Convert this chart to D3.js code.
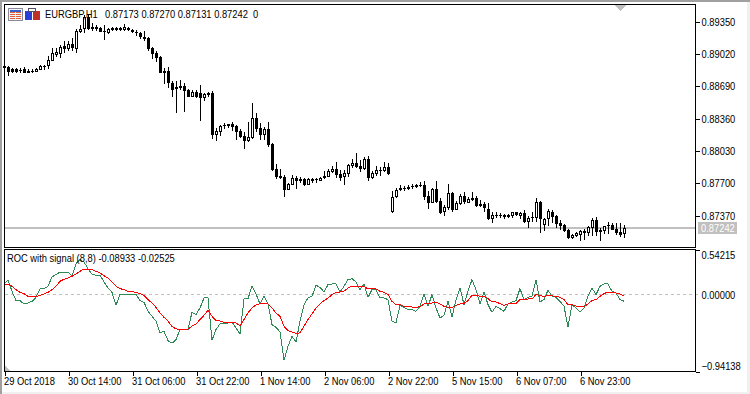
<!DOCTYPE html>
<html>
<head>
<meta charset="utf-8">
<title>EURGBP,H1</title>
<script src="https://cdnjs.cloudflare.com/ajax/libs/d3/7.8.5/d3.min.js"></script>
<style>
  html, body { margin: 0; padding: 0; background: #fff; overflow: hidden; }
  svg { display: block; }
  text { font-family: "Liberation Sans", Arial, sans-serif; font-size: 10.5px; fill: #000; }
</style>
</head>
<body>
<svg id="chart" width="750" height="394"></svg>
<script>
// H1 candles, 156 bars
const opens = [
  0.88894,0.88884,0.88856,0.88856,0.88850,0.88856,0.88843,0.88839,0.88833,0.88850,
  0.88880,0.88890,0.88945,0.89003,0.89009,0.89095,0.89061,0.89118,0.89064,0.89241,
  0.89265,0.89394,0.89271,0.89292,0.89278,0.89244,0.89227,0.89278,0.89275,0.89275,
  0.89258,0.89282,0.89258,0.89241,0.89227,0.89190,0.89176,0.89078,0.89026,0.88982,
  0.88843,0.88839,0.88713,0.88652,0.88686,0.88686,0.88645,0.88577,0.88625,0.88611,
  0.88567,0.88615,0.88619,0.88190,0.88221,0.88289,0.88296,0.88299,0.88279,0.88231,
  0.88177,0.88129,0.88160,0.88360,0.88258,0.88190,0.88248,0.88095,0.87840,0.87768,
  0.87758,0.87629,0.87680,0.87748,0.87741,0.87738,0.87680,0.87738,0.87738,0.87721,
  0.87744,0.87758,0.87809,0.87840,0.87789,0.87755,0.87789,0.87870,0.87901,0.87870,
  0.87840,0.87942,0.87748,0.87789,0.87826,0.87819,0.87860,0.87401,0.87551,0.87622,
  0.87639,0.87656,0.87652,0.87659,0.87669,0.87676,0.87564,0.87495,0.87635,0.87512,
  0.87397,0.87444,0.87594,0.87424,0.87482,0.87564,0.87495,0.87543,0.87543,0.87482,
  0.87482,0.87431,0.87329,0.87359,0.87359,0.87370,0.87370,0.87359,0.87397,0.87363,
  0.87390,0.87298,0.87336,0.87336,0.87506,0.87264,0.87325,0.87404,0.87359,0.87288,
  0.87264,0.87217,0.87135,0.87155,0.87162,0.87189,0.87189,0.87240,0.87319,0.87193,
  0.87206,0.87268,0.87268,0.87227,0.87196,0.87173
];
const highs = [
  0.88935,0.88894,0.88870,0.88870,0.88870,0.88884,0.88856,0.88856,0.88867,0.88897,
  0.88897,0.88992,0.89074,0.89071,0.89101,0.89142,0.89142,0.89176,0.89265,0.89309,
  0.89411,0.89411,0.89326,0.89305,0.89292,0.89309,0.89275,0.89292,0.89285,0.89292,
  0.89319,0.89292,0.89268,0.89258,0.89234,0.89251,0.89190,0.89088,0.89040,0.88992,
  0.88870,0.88877,0.88737,0.88737,0.88748,0.88720,0.88652,0.88645,0.88645,0.88696,
  0.88618,0.88628,0.88636,0.88262,0.88289,0.88306,0.88302,0.88319,0.88285,0.88248,
  0.88221,0.88319,0.88513,0.88411,0.88313,0.88265,0.88319,0.88102,0.87891,0.87840,
  0.87778,0.87700,0.87778,0.87768,0.87758,0.87748,0.87748,0.87748,0.87748,0.87758,
  0.87819,0.87843,0.87870,0.87911,0.87826,0.87830,0.87891,0.87942,0.88003,0.87932,
  0.87966,0.87976,0.87819,0.87870,0.87864,0.87911,0.87901,0.87615,0.87642,0.87676,
  0.87666,0.87676,0.87683,0.87683,0.87703,0.87717,0.87618,0.87642,0.87717,0.87540,
  0.87472,0.87686,0.87604,0.87516,0.87584,0.87601,0.87557,0.87604,0.87564,0.87523,
  0.87506,0.87492,0.87400,0.87400,0.87390,0.87380,0.87380,0.87404,0.87400,0.87400,
  0.87421,0.87359,0.87400,0.87543,0.87512,0.87339,0.87431,0.87421,0.87366,0.87319,
  0.87278,0.87227,0.87176,0.87196,0.87217,0.87227,0.87257,0.87339,0.87349,0.87237,
  0.87257,0.87298,0.87288,0.87291,0.87288,0.87270
];
const lows = [
  0.88833,0.88788,0.88819,0.88822,0.88822,0.88816,0.88819,0.88819,0.88829,0.88846,
  0.88850,0.88860,0.88941,0.88982,0.88975,0.89020,0.89040,0.89047,0.89026,0.89224,
  0.89224,0.89258,0.89251,0.89244,0.89237,0.89156,0.89214,0.89244,0.89244,0.89248,
  0.89244,0.89244,0.89231,0.89197,0.89163,0.89149,0.89047,0.88962,0.88931,0.88816,
  0.88707,0.88666,0.88577,0.88414,0.88645,0.88424,0.88571,0.88574,0.88567,0.88332,
  0.88537,0.88571,0.88146,0.88129,0.88180,0.88251,0.88255,0.88231,0.88136,0.88160,
  0.88044,0.88115,0.88143,0.88221,0.88136,0.88136,0.88068,0.87819,0.87738,0.87741,
  0.87557,0.87625,0.87676,0.87636,0.87697,0.87666,0.87676,0.87700,0.87700,0.87717,
  0.87741,0.87755,0.87802,0.87751,0.87714,0.87676,0.87758,0.87853,0.87850,0.87809,
  0.87830,0.87721,0.87738,0.87768,0.87768,0.87813,0.87782,0.87391,0.87544,0.87615,
  0.87615,0.87625,0.87632,0.87645,0.87659,0.87523,0.87431,0.87490,0.87495,0.87383,
  0.87359,0.87421,0.87404,0.87421,0.87472,0.87478,0.87492,0.87516,0.87451,0.87451,
  0.87400,0.87319,0.87288,0.87339,0.87339,0.87329,0.87339,0.87339,0.87359,0.87329,
  0.87288,0.87237,0.87298,0.87298,0.87186,0.87206,0.87257,0.87288,0.87237,0.87217,
  0.87196,0.87125,0.87125,0.87145,0.87108,0.87114,0.87155,0.87155,0.87155,0.87104,
  0.87176,0.87176,0.87213,0.87165,0.87145,0.87131
];
const closes = [
  0.88867,0.88833,0.88833,0.88833,0.88839,0.88822,0.88822,0.88829,0.88860,0.88887,
  0.88887,0.88948,0.89020,0.89030,0.89088,0.89061,0.89115,0.89071,0.89244,0.89265,
  0.89394,0.89265,0.89292,0.89265,0.89241,0.89234,0.89265,0.89258,0.89258,0.89258,
  0.89285,0.89254,0.89241,0.89231,0.89183,0.89169,0.89061,0.89013,0.88972,0.88822,
  0.88822,0.88713,0.88645,0.88673,0.88669,0.88635,0.88577,0.88625,0.88571,0.88560,
  0.88605,0.88591,0.88187,0.88228,0.88279,0.88275,0.88282,0.88272,0.88221,0.88166,
  0.88129,0.88166,0.88360,0.88251,0.88190,0.88248,0.88085,0.87830,0.87761,0.87748,
  0.87625,0.87687,0.87748,0.87721,0.87717,0.87676,0.87738,0.87717,0.87727,0.87748,
  0.87768,0.87819,0.87840,0.87782,0.87748,0.87799,0.87881,0.87898,0.87864,0.87840,
  0.87942,0.87751,0.87799,0.87830,0.87833,0.87857,0.87792,0.87554,0.87625,0.87646,
  0.87646,0.87636,0.87666,0.87672,0.87679,0.87557,0.87495,0.87632,0.87499,0.87390,
  0.87451,0.87594,0.87424,0.87492,0.87564,0.87502,0.87533,0.87523,0.87461,0.87461,
  0.87438,0.87329,0.87370,0.87370,0.87370,0.87349,0.87349,0.87397,0.87366,0.87387,
  0.87298,0.87339,0.87346,0.87502,0.87329,0.87329,0.87410,0.87349,0.87278,0.87257,
  0.87206,0.87135,0.87165,0.87182,0.87206,0.87206,0.87244,0.87319,0.87196,0.87217,
  0.87254,0.87254,0.87217,0.87189,0.87162,0.87242
];

// ROC(8) and its signal, sub window
const rocValues = [
  0.122,0.167,0.033,-0.081,-0.081,-0.122,-0.110,-0.090,-0.041,0.061,
  0.065,0.094,0.208,0.236,0.269,0.256,0.269,0.216,0.370,0.419,
  0.391,0.309,0.244,0.228,0.228,0.147,0.073,0.020,-0.138,-0.008,
  -0.008,-0.008,0,-0.008,-0.081,-0.102,-0.212,-0.273,-0.334,-0.476,
  -0.456,-0.570,-0.602,-0.558,-0.435,-0.435,-0.435,-0.224,-0.252,-0.171,
  -0.049,-0.049,-0.566,-0.435,-0.366,-0.366,-0.354,-0.342,-0.415,-0.488,
  -0.061,-0.057,0.094,0,-0.122,-0.028,-0.122,-0.374,-0.407,-0.464,
  -0.810,-0.639,-0.517,-0.586,-0.334,-0.130,-0.049,-0.028,0.106,0.081,
  0.024,0.114,0.122,0.122,0.024,0.094,0.175,0.187,0.147,0.053,
  0.122,-0.041,0.053,0.053,-0.049,-0.049,-0.069,-0.334,-0.354,-0.138,
  -0.163,-0.191,-0.191,-0.212,-0.151,0.004,-0.151,-0.008,-0.171,-0.293,
  -0.260,-0.090,-0.285,-0.069,0.073,-0.130,0.033,0.175,0.053,-0.122,
  0.024,-0.130,-0.224,-0.151,-0.179,-0.212,-0.122,-0.098,-0.081,0.065,
  -0.069,-0.041,-0.028,0.175,-0.098,-0.069,0.045,-0.028,-0.041,-0.090,
  -0.151,-0.403,-0.130,-0.171,-0.224,-0.171,-0.028,0.073,-0.008,0.094,
  0.122,0.122,0.033,0.012,-0.069,-0.089
];
const signalValues = [
  0.114,0.122,0.094,0.053,0.020,0.004,-0.028,-0.037,-0.037,-0.016,
  0,0.020,0.053,0.094,0.155,0.179,0.195,0.216,0.244,0.277,
  0.305,0.305,0.297,0.277,0.256,0.224,0.195,0.147,0.094,0.065,
  0.053,0.033,0.028,0.020,0.004,-0.020,-0.069,-0.110,-0.163,-0.232,
  -0.285,-0.334,-0.399,-0.427,-0.431,-0.431,-0.431,-0.391,-0.366,-0.313,
  -0.260,-0.199,-0.273,-0.326,-0.330,-0.346,-0.346,-0.346,-0.354,-0.387,
  -0.313,-0.232,-0.171,-0.134,-0.118,-0.110,-0.122,-0.171,-0.232,-0.273,
  -0.395,-0.448,-0.464,-0.484,-0.476,-0.395,-0.313,-0.244,-0.171,-0.122,
  -0.081,-0.049,-0.008,0.020,0.024,0.033,0.073,0.094,0.094,0.085,
  0.094,0.061,0.061,0.061,0.033,0.020,-0.008,-0.090,-0.134,-0.130,
  -0.151,-0.159,-0.159,-0.163,-0.155,-0.122,-0.122,-0.110,-0.098,-0.122,
  -0.151,-0.163,-0.163,-0.142,-0.122,-0.114,-0.081,-0.016,-0.016,-0.028,
  -0.028,-0.057,-0.098,-0.098,-0.118,-0.138,-0.122,-0.118,-0.118,-0.069,
  -0.069,-0.061,-0.061,-0.008,-0.016,-0.033,-0.016,-0.024,-0.028,-0.041,
  -0.069,-0.130,-0.130,-0.147,-0.159,-0.159,-0.122,-0.081,-0.069,-0.028,
  0.004,0.024,0.024,0.012,0,-0.025
];

// tick labels
const timeLabels = ["29 Oct 2018", "30 Oct 14:00", "31 Oct 06:00", "31 Oct 22:00", "1 Nov 14:00",
  "2 Nov 06:00", "2 Nov 22:00", "5 Nov 15:00", "6 Nov 07:00", "6 Nov 23:00"];
const timeTickBars = [0, 16, 32, 48, 64, 80, 96, 112, 128, 144];
const priceTicks = [0.8935, 0.8902, 0.8869, 0.8836, 0.8803, 0.877, 0.8737];
const rocTicks = [0.54215, 0, -0.94138];
const lastPrice = 0.87242;
const symbolText = "EURGBP,H1";
const quoteText = "0.87173 0.87270 0.87131 0.87242  0";
const rocHeaderText = "ROC with signal (8,8) -0.08933 -0.02525";

const svg = d3.select("#chart");

// window layout, pixel grid
const frame = { left: 4, right: 695, mainTop: 4, mainBottom: 247, subTop: 249, subBottom: 371 };

const x = d3.scaleLinear().domain([0, opens.length - 1]).range([4, 624]);
const y = d3.scaleLinear().domain([0.8737, 0.8935]).range([215, 21]);
const yRoc = d3.scaleLinear().domain([-0.94138, 0.54215]).range([371, 249.6]);

// text is a bit wider than the terminal's bitmap font, squeeze it to fit
const squeeze = (sel) => sel.each(function () {
  d3.select(this).attr("textLength", this.getComputedTextLength() * 0.89).attr("lengthAdjust", "spacingAndGlyphs");
});

// page edge
svg.append("rect").attr("width", 750).attr("height", 394).attr("fill", "#f0f0f0");
svg.append("rect").attr("x", 2).attr("y", 2).attr("width", 745).attr("height", 390).attr("fill", "#fff");
svg.append("rect").attr("width", 750).attr("height", 2).attr("fill", "#a0a0a0");
svg.append("rect").attr("width", 2).attr("height", 394).attr("fill", "#a0a0a0");

const plot = svg.append("g").attr("shape-rendering", "crispEdges");

// last price line behind the candles
plot.append("rect")
  .attr("x", frame.left).attr("y", Math.round(y(lastPrice)) - 1)
  .attr("width", frame.right - frame.left).attr("height", 2)
  .attr("fill", "#c0c0c0");

// candles
const bars = d3.range(opens.length);
const candle = plot.append("g").selectAll("g").data(bars).enter().append("g");

candle.append("rect")
  .attr("x", (i) => Math.round(x(i)))
  .attr("y", (i) => Math.round(y(highs[i])))
  .attr("width", 1)
  .attr("height", (i) => Math.max(1, Math.round(y(lows[i])) - Math.round(y(highs[i]))))
  .attr("fill", "#000");

candle.append("rect")
  .attr("x", (i) => Math.round(x(i)) - 1)
  .attr("y", (i) => Math.round(y(Math.max(opens[i], closes[i]))))
  .attr("width", 3)
  .attr("height", (i) => Math.max(1, Math.round(y(Math.min(opens[i], closes[i]))) - Math.round(y(Math.max(opens[i], closes[i])))))
  .attr("fill", "#000");

// up candles get a white middle
candle.filter((i) => closes[i] > opens[i]).append("rect")
  .attr("x", (i) => Math.round(x(i)))
  .attr("y", (i) => Math.round(y(closes[i])) + 1)
  .attr("width", 1)
  .attr("height", (i) => Math.max(0, Math.round(y(opens[i])) - Math.round(y(closes[i])) - 2))
  .attr("fill", "#fff");

// zero line of the sub window
plot.append("line")
  .attr("x1", frame.left + 1).attr("x2", frame.right + 3)
  .attr("y1", Math.round(yRoc(0)) + 0.5).attr("y2", Math.round(yRoc(0)) + 0.5)
  .attr("stroke", "#c0c0c0").attr("stroke-dasharray", "3,3");

const rocLine = d3.line().x((d, i) => x(i)).y((d) => yRoc(d));
plot.append("path").datum(rocValues).attr("d", rocLine)
  .attr("fill", "none").attr("stroke", "#2e8b57").attr("stroke-width", 1);
plot.append("path").datum(signalValues).attr("d", rocLine)
  .attr("fill", "none").attr("stroke", "#ff0000").attr("stroke-width", 1);

// small grey triangles in the corners
plot.append("path").attr("d", "M615,5H626L620,11Z").attr("fill", "#c0c0c0");
plot.append("path").attr("d", "M5,366V371H10Z").attr("fill", "#c0c0c0");

// window frames
[[frame.mainTop, frame.mainBottom], [frame.subTop, frame.subBottom]].forEach(([top, bottom]) => {
  plot.append("rect")
    .attr("x", frame.left + 0.5).attr("y", top + 0.5)
    .attr("width", frame.right - frame.left).attr("height", bottom - top)
    .attr("fill", "none").attr("stroke", "#000");
});

// price axis
const priceAxis = svg.append("g")
  .attr("transform", `translate(${frame.right + 0.5},0.5)`)
  .attr("shape-rendering", "crispEdges")
  .call(d3.axisRight(y).tickValues(priceTicks).tickFormat(d3.format(".5f")).tickSize(4).tickPadding(2));
priceAxis.select(".domain").remove();
priceAxis.selectAll("line").attr("stroke", "#000");
priceAxis.selectAll("text").attr("dy", "0.35em").call(squeeze);

// roc axis, the two outer labels are pulled inside the window
const rocAxis = svg.append("g")
  .attr("transform", `translate(${frame.right + 0.5},0.5)`)
  .attr("shape-rendering", "crispEdges")
  .call(d3.axisRight(yRoc).tickValues(rocTicks).tickFormat(d3.format(".5f")).tickSize(4).tickPadding(2));
rocAxis.select(".domain").remove();
rocAxis.selectAll("line").attr("stroke", (d) => (d === 0 ? "none" : "#000"));
rocAxis.selectAll("text")
  .attr("dy", (d) => (d === 0 ? "0.35em" : d > 0 ? "0.8em" : "-0.2em"))
  .call(squeeze);

// time axis, labels start at the tick
const timeAxis = svg.append("g")
  .attr("transform", `translate(0.5,${frame.subBottom + 0.5})`)
  .attr("shape-rendering", "crispEdges")
  .call(d3.axisBottom(x).tickValues(timeTickBars).tickFormat((d, i) => timeLabels[i]).tickSize(4).tickPadding(2));
timeAxis.select(".domain").remove();
timeAxis.selectAll("line").attr("stroke", "#000");
timeAxis.selectAll("text").attr("text-anchor", "start").attr("x", -1).call(squeeze);

// last price tag
const tagY = Math.round(y(lastPrice));
svg.append("rect").attr("x", 698).attr("y", tagY - 6).attr("width", 39).attr("height", 12)
  .attr("fill", "#c0c0c0").attr("shape-rendering", "crispEdges");
svg.append("text").attr("x", 701).attr("y", tagY).attr("dy", "0.35em")
  .text(d3.format(".5f")(lastPrice)).style("fill", "#fff").call(squeeze);

// header icons
const icons = svg.append("g").attr("shape-rendering", "crispEdges");
icons.append("rect").attr("x", 8.5).attr("y", 8.5).attr("width", 14).attr("height", 12)
  .attr("fill", "#f4f4fa").attr("stroke", "#8a8a9a");
icons.append("rect").attr("x", 10).attr("y", 10).attr("width", 11).attr("height", 2).attr("fill", "#3a5fc8");
[12, 14, 16, 18].forEach((rowY) => {
  icons.append("rect").attr("x", 10).attr("y", rowY).attr("width", 5).attr("height", 1).attr("fill", "#e0603a");
  icons.append("rect").attr("x", 16).attr("y", rowY).attr("width", 5).attr("height", 1).attr("fill", "#e0603a");
});
icons.append("rect").attr("x", 25).attr("y", 11).attr("width", 7).attr("height", 9).attr("fill", "#2a3fd8");
icons.append("rect").attr("x", 33).attr("y", 11).attr("width", 7).attr("height", 9).attr("fill", "#c03028");
icons.append("rect").attr("x", 28).attr("y", 8).attr("width", 7).attr("height", 3).attr("fill", "#fff").attr("stroke", "#505060");

// header texts go on top of the marks
svg.append("text").attr("x", 45).attr("y", 18).text(symbolText).call(squeeze);
svg.append("text").attr("x", 105).attr("y", 18).text(quoteText).style("white-space", "pre").call(squeeze);
svg.append("text").attr("x", 7).attr("y", 262).text(rocHeaderText).call(squeeze);
</script>
</body>
</html>
